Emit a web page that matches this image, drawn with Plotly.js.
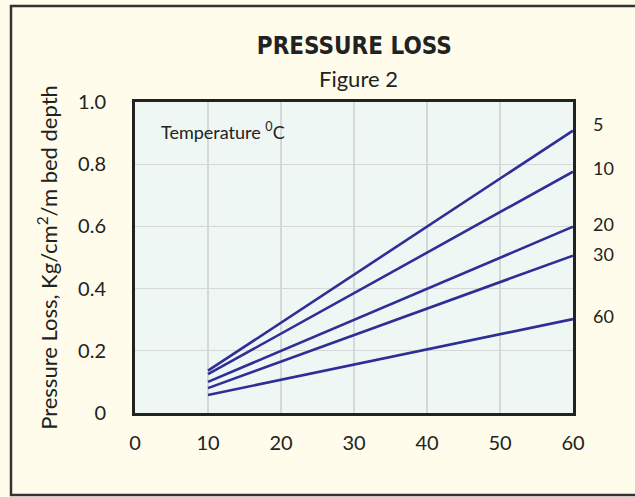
<!DOCTYPE html>
<html>
<head>
<meta charset="utf-8">
<script src="https://cdn.plot.ly/plotly-3.0.1.min.js"></script>
<style>
html,body{margin:0;padding:0;background:#FFFCEC;}
#chart{width:635px;height:497px;}
</style>
</head>
<body>
<div id="chart"></div>
<script>
// Flow rate axis (x) and pressure loss (y) for each temperature
const temperatures = ["5", "10", "20", "30", "60"];
const xValues = [10, 60];
const loss5 = [0.136, 0.908];
const loss10 = [0.125, 0.776];
const loss20 = [0.100, 0.599];
const loss30 = [0.080, 0.506];
const loss60 = [0.058, 0.302];
const xTicks = [0, 10, 20, 30, 40, 50, 60];
const xTickText = ["0", "10", "20", "30", "40", "50", "60"];
const yTicks = [0, 0.2, 0.4, 0.6, 0.8, 1.0];
const yTickText = ["0", "0.2", "0.4", "0.6", "0.8", "1.0"];

const series = [loss5, loss10, loss20, loss30, loss60];
const lineColor = "#2E2E96";
const font = "Lato, 'Open Sans', sans-serif";

const traces = series.map((ys, i) => ({
  x: xValues, y: ys, type: "scatter", mode: "lines",
  name: temperatures[i],
  line: {color: lineColor, width: 2.6},
  hoverinfo: "skip"
}));

const labelShift = [7, 4, 3, 2, 3];
const annotations = series.map((ys, i) => ({
  xref: "paper", yref: "y", x: 1, y: ys[ys.length - 1],
  xshift: 18, yshift: labelShift[i], xanchor: "left", yanchor: "middle",
  text: temperatures[i], showarrow: false,
  font: {family: font, size: 18, color: "#222"}
}));
annotations.push({
  xref: "paper", yref: "paper", x: 0.055, y: 0.907, xanchor: "left", yanchor: "middle",
  text: "Temperature <sup>0</sup>C", showarrow: false,
  font: {family: font, size: 18, color: "#222"}
});
annotations.push({
  xref: "paper", yref: "paper", x: 0.51, y: 1.077, xanchor: "center", yanchor: "middle",
  text: "Figure 2", showarrow: false,
  font: {family: font, size: 22, color: "#222"}
});

const layout = {
  width: 635, height: 497,
  margin: {l: 135, r: 62, t: 102, b: 84},
  paper_bgcolor: "#FFFCEC",
  plot_bgcolor: "#EEF7F3",
  showlegend: false,
  title: {
    text: "<b>PRESSURE LOSS</b>",
    x: 0.558, xanchor: "center", y: 0.909, yanchor: "middle",
    font: {family: "'DejaVu Sans Condensed', 'DejaVu Sans', sans-serif", size: 24, color: "#222"}
  },
  xaxis: {
    range: [0, 60], tickvals: xTicks, ticktext: xTickText,
    showgrid: true, gridcolor: "#D6D8D8", gridwidth: 1.2,
    showline: true, linecolor: "#222", linewidth: 3, mirror: true,
    zeroline: false, ticks: "", ticklabelstandoff: 10,
    tickfont: {family: font, size: 20, color: "#222"}
  },
  yaxis: {
    range: [0, 1.0], tickvals: yTicks, ticktext: yTickText,
    showgrid: true, gridcolor: "#D6D8D8", gridwidth: 1.2,
    showline: true, linecolor: "#222", linewidth: 3, mirror: true,
    zeroline: false, ticks: "", ticklabelstandoff: 22,
    tickfont: {family: font, size: 20, color: "#222"},
    title: {text: "Pressure Loss, Kg/cm<sup>2</sup>/m bed depth", standoff: 15,
      font: {family: font, size: 22, color: "#222"}}
  },
  annotations: annotations,
  shapes: [{
    type: "rect", xref: "paper", yref: "paper",
    x0: (11 - 135) / 438, x1: (645 - 135) / 438,
    y0: (413 - 495) / 311, y1: (413 - 6) / 311,
    line: {color: "#333", width: 2.5}, fillcolor: "rgba(0,0,0,0)", layer: "below"
  }]
};

Plotly.newPlot("chart", traces, layout, {displayModeBar: false, staticPlot: true});
</script>
</body>
</html>
